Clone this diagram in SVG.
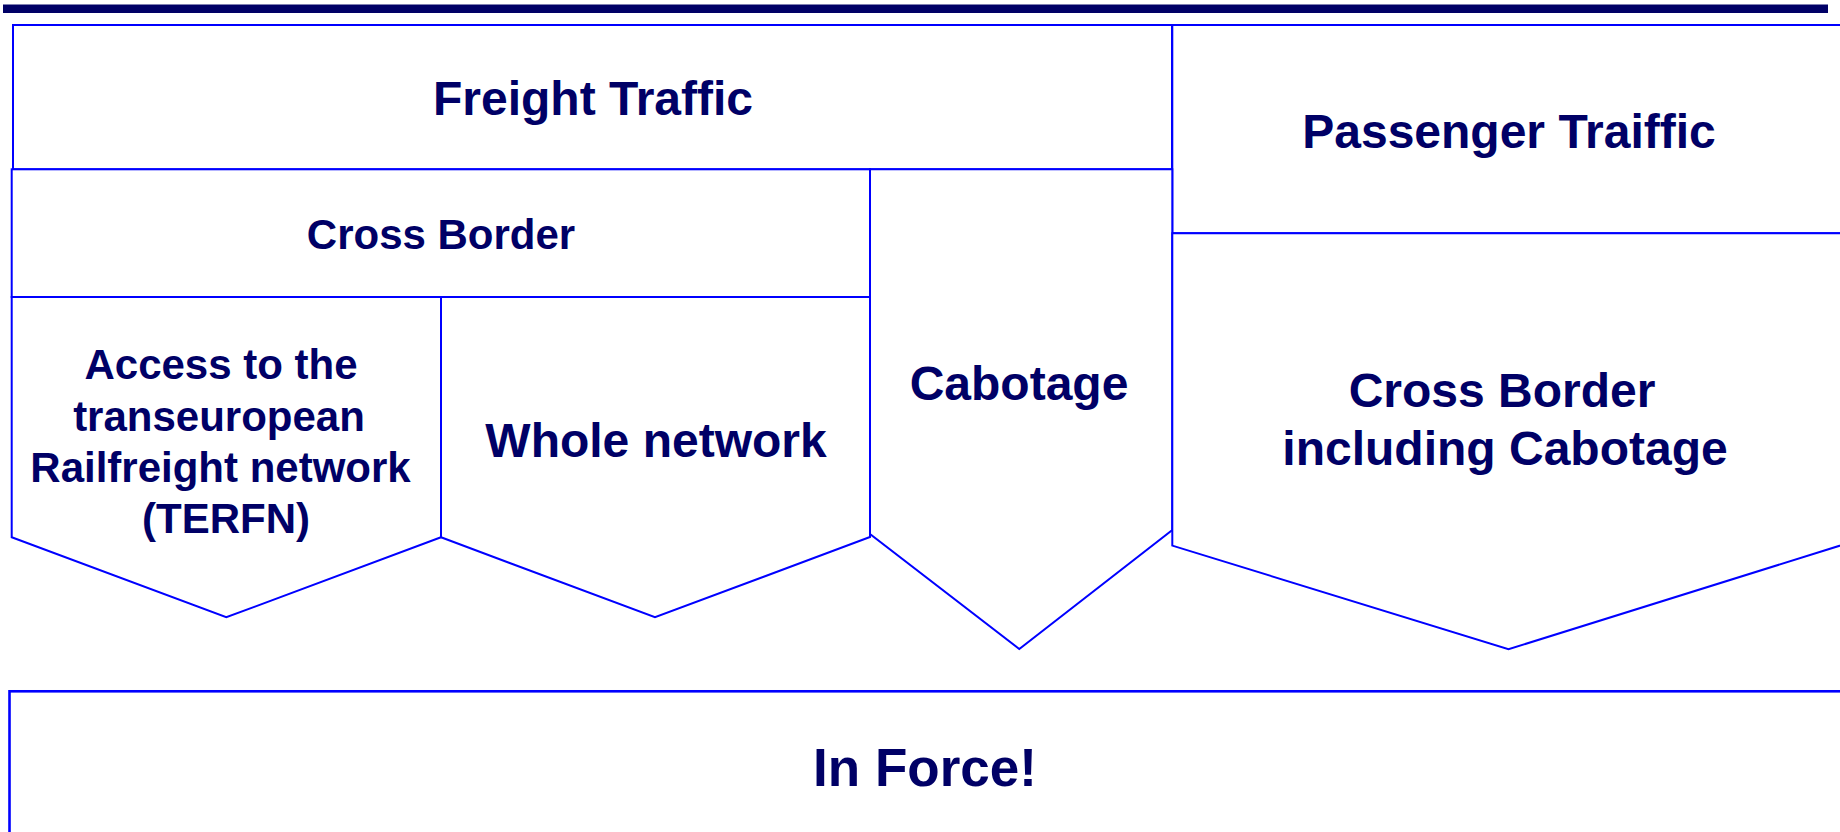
<svg xmlns="http://www.w3.org/2000/svg" width="1840" height="832" viewBox="0 0 1840 832">
  <style>
    .box { fill: #ffffff; stroke: #0000ff; stroke-width: 2; stroke-linejoin: miter; }
    .outer { fill: none; stroke: #0000ff; stroke-width: 2.6; }
    .lbl { font-family: "Liberation Sans", Arial, sans-serif; font-weight: bold; fill: #000066; text-anchor: middle; }
    .h1 { font-size: 48px; }
    .h2 { font-size: 42px; }
    .h3 { font-size: 53px; }
  </style>
  <rect x="0" y="0" width="1840" height="832" fill="#ffffff"/>

  <!-- title rule -->
  <rect x="3" y="4.5" width="1825" height="8.5" fill="#000066"/>

  <g id="freight-traffic">
    <rect class="box" x="13" y="25" width="1159" height="144.3"/>
    <text class="lbl h1" x="593" y="115">Freight Traffic</text>
  </g>

  <g id="passenger-traffic">
    <path class="box" d="M1172.3,25 H1850 V233.3 H1172.3 Z"/>
    <text class="lbl h1" x="1509" y="148">Passenger Traiffic</text>
  </g>

  <g id="freight-cross-border">
    <rect class="box" x="11.7" y="169.3" width="858.3" height="127.7"/>
    <text class="lbl h2" x="441" y="249.3">Cross Border</text>
  </g>

  <g id="access-terfn">
    <path class="box" d="M11.7,297 H441 V537.3 L226.3,617.3 L11.7,537.3 Z"/>
    <text class="lbl h2" x="221" y="379">Access to the</text>
    <text class="lbl h2" x="219" y="430.5">transeuropean</text>
    <text class="lbl h2" x="220.5" y="481.7">Railfreight network</text>
    <text class="lbl h2" x="226" y="533">(TERFN)</text>
  </g>

  <g id="whole-network">
    <path class="box" d="M441,297 H870 V537 L655,617.3 L441,537.3 Z"/>
    <text class="lbl h1" x="656" y="457.3">Whole network</text>
  </g>

  <g id="cabotage">
    <path class="box" d="M870,169.3 H1172.3 V530 L1019.3,649 L870,534 Z"/>
    <text class="lbl h1" x="1019" y="400">Cabotage</text>
  </g>

  <g id="passenger-cross-border">
    <path class="box" d="M1172.3,233.3 H1850 V542.5 L1508.5,649.2 L1172.3,545.6 Z"/>
    <text class="lbl h1" x="1502" y="407">Cross Border</text>
    <text class="lbl h1" x="1505" y="465">including Cabotage</text>
  </g>

  <g id="in-force">
    <rect class="outer" x="9.5" y="691.3" width="1845" height="160"/>
    <text class="lbl h3" x="925" y="786">In Force!</text>
  </g>

  <g id="connectors"/>
</svg>
